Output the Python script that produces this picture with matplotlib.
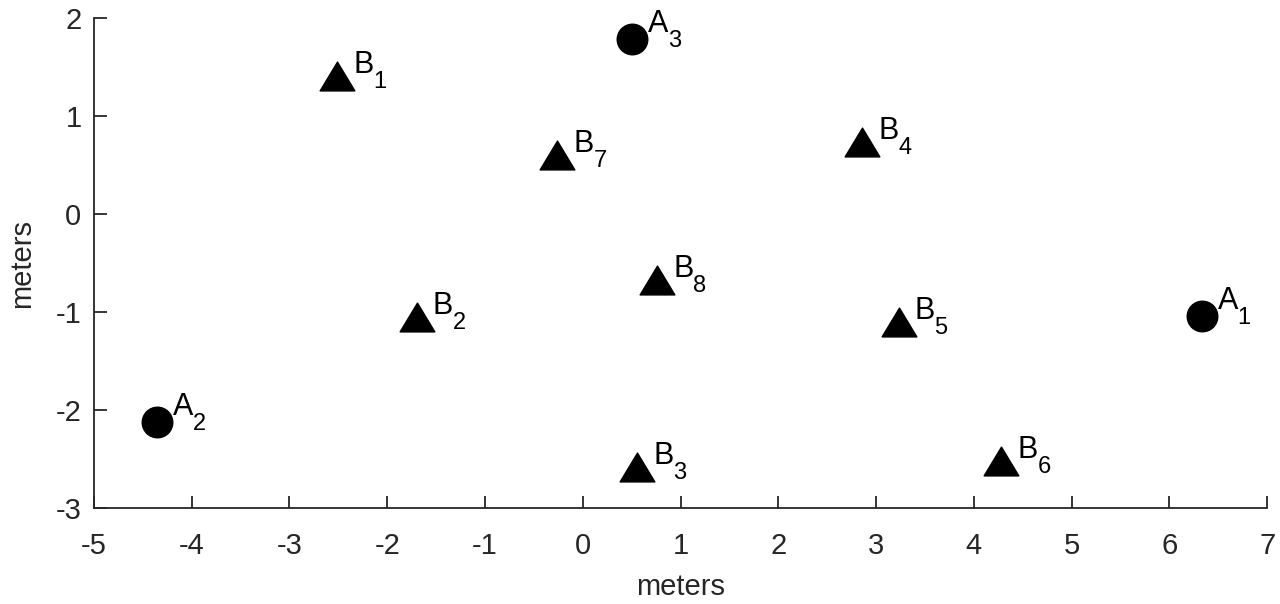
import matplotlib.pyplot as plt
from matplotlib.path import Path
from matplotlib.transforms import offset_copy

plt.rcParams['font.family'] = ['Liberation Sans', 'DejaVu Sans']
plt.rcParams['axes.unicode_minus'] = False

# anchors (circles) and beacons (triangles)
a_x = [6.33, -4.36, 0.50]
a_y = [-1.04, -2.12, 1.79]
a_sub = ['1', '2', '3']

b_x = [-2.51, -1.70, 0.555, 2.86, 3.23, 4.28, -0.26, 0.76]
b_y = [1.41, -1.05, -2.58, 0.74, -1.10, -2.52, 0.60, -0.67]
b_sub = ['1', '2', '3', '4', '5', '6', '7', '8']

x_ticks = list(range(-5, 8))
y_ticks = list(range(-3, 3))

tri = Path([(0, 0.83), (-1, -0.83), (1, -0.83), (0, 0.83)],
           [Path.MOVETO, Path.LINETO, Path.LINETO, Path.CLOSEPOLY])

fig = plt.figure(figsize=(12.8, 6.04), dpi=100)
ax = fig.add_axes([0.0734, 0.159, 0.9166, 0.811])

ax.plot(a_x, a_y, 'o', color='black', markersize=22, linestyle='none')
ax.plot(b_x, b_y, marker=tri, color='black', markersize=25, linestyle='none')


def label(x, y, letter, sub, up):
    t_main = offset_copy(ax.transData, fig=fig, x=16, y=up, units='dots')
    t_sub = offset_copy(ax.transData, fig=fig, x=36, y=up - 15, units='dots')
    ax.text(x, y, letter, transform=t_main, fontsize=22, ha='left', va='baseline')
    ax.text(x, y, sub, transform=t_sub, fontsize=17, ha='left', va='baseline')


for x, y, s in zip(a_x, a_y, a_sub):
    label(x, y, 'A', s, 7)
for x, y, s in zip(b_x, b_y, b_sub):
    label(x, y, 'B', s, 3)

ax.set_xlim(-5, 7)
ax.set_ylim(-3, 2)
ax.set_xticks(x_ticks)
ax.set_yticks(y_ticks)

gray = '#262626'
for side in ['top', 'right']:
    ax.spines[side].set_visible(False)
for side in ['left', 'bottom']:
    ax.spines[side].set_color(gray)
    ax.spines[side].set_linewidth(1.3)
ax.tick_params(direction='in', length=9, width=1.3, color=gray, labelcolor=gray,
               labelsize=21)
ax.tick_params(axis='x', pad=17)
ax.tick_params(axis='y', pad=9)

ax.set_xlabel('meters', fontsize=21, color=gray, labelpad=10)
ax.set_ylabel('meters', fontsize=21, color=gray, labelpad=14)

fig.savefig('out.png', dpi=100)
